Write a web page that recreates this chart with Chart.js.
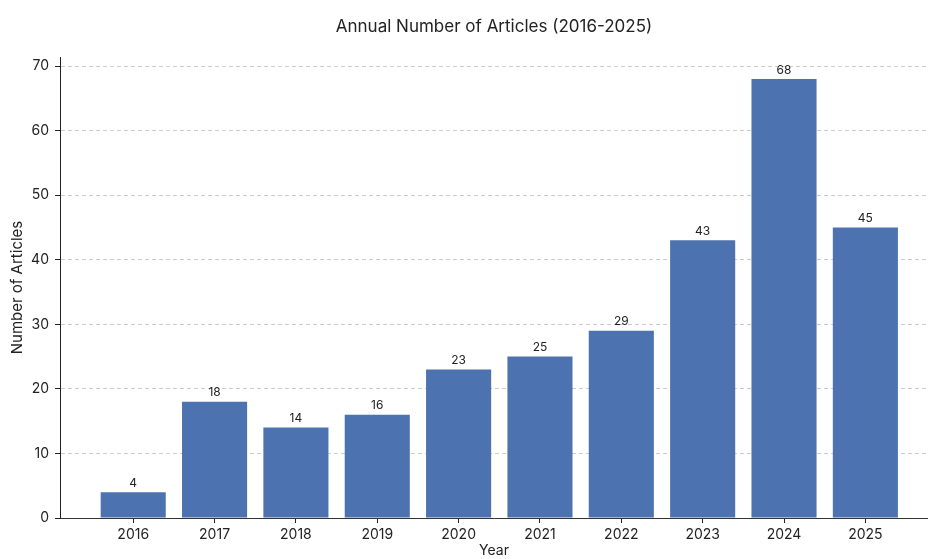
<!DOCTYPE html>
<html>
<head>
<meta charset="utf-8">
<script src="https://cdn.jsdelivr.net/npm/chart.js@4"></script>
<style>
  html, body { margin: 0; padding: 0; background: #ffffff; }
  #wrap { width: 928px; height: 559px; }
</style>
</head>
<body>
<div id="wrap"><canvas id="c" width="928" height="559"></canvas></div>
<script>
const titleText = 'Annual Number of Articles (2016-2025)';
const years = ['2016','2017','2018','2019','2020','2021','2022','2023','2024','2025'];
const articles = [4, 18, 14, 16, 23, 25, 29, 43, 68, 45];
const yTicks = [0, 10, 20, 30, 40, 50, 60, 70];

const FONT = 'Inter, "Open Sans", "DejaVu Sans", sans-serif';
const TEXT = '#222222';

const labelPlugin = {
  id: 'barLabels',
  afterDatasetsDraw(chart) {
    const ctx = chart.ctx;
    const meta = chart.getDatasetMeta(0);
    ctx.save();
    ctx.font = '12px ' + FONT;
    ctx.fillStyle = TEXT;
    ctx.textAlign = 'center';
    ctx.textBaseline = 'bottom';
    meta.data.forEach((bar, i) => {
      ctx.fillText(String(articles[i]), bar.x, bar.y - 3);
    });
    ctx.restore();
  }
};

// Title centred over the plotting area (as in the reference)
const axesTitlePlugin = {
  id: 'axesTitle',
  afterDraw(chart) {
    const { ctx, chartArea } = chart;
    ctx.save();
    ctx.font = '17px ' + FONT;
    ctx.fillStyle = TEXT;
    ctx.textAlign = 'center';
    ctx.textBaseline = 'middle';
    ctx.fillText(titleText, (chartArea.left + chartArea.right) / 2, 27);
    ctx.restore();
  }
};

new Chart(document.getElementById('c'), {
  type: 'bar',
  data: {
    datasets: [{
      data: articles.map((v, i) => ({ x: i, y: v })),
      backgroundColor: '#4c72b0',
      borderWidth: 0,
      categoryPercentage: 0.8,
      barPercentage: 1.0
    }]
  },
  options: {
    responsive: false,
    animation: false,
    devicePixelRatio: 1,
    layout: { padding: { left: 0, right: 0, top: 57, bottom: 0 } },
    plugins: {
      legend: { display: false },
      tooltip: { enabled: false },
      title: { display: false }
    },
    scales: {
      x: {
        type: 'linear',
        min: -0.9,
        max: 9.77,
        offset: false,
        afterFit(scale) { scale.height = 41; },
        afterBuildTicks(scale) {
          scale.ticks = years.map((y, i) => ({ value: i }));
        },
        ticks: {
          color: TEXT,
          font: { family: FONT, size: 14 },
          padding: 3,
          maxRotation: 0,
          autoSkip: false,
          callback: (v) => years[v]
        },
        grid: {
          display: true,
          offset: false,
          drawOnChartArea: false,
          drawTicks: true,
          tickLength: 5,
          tickColor: '#222222',
          tickWidth: 1
        },
        border: { display: true, color: '#333333', width: 1 },
        title: {
          display: true,
          text: 'Year',
          color: TEXT,
          font: { family: FONT, size: 14 },
          padding: { top: 0, bottom: 0 }
        }
      },
      y: {
        min: 0,
        max: Math.max(...articles) * 1.05,
        afterFit(scale) { scale.width = 60; },
        afterBuildTicks(scale) {
          scale.ticks = yTicks.map(v => ({ value: v }));
        },
        ticks: {
          color: TEXT,
          font: { family: FONT, size: 14 },
          padding: 6,
          includeBounds: false
        },
        grid: {
          display: true,
          drawOnChartArea: true,
          drawTicks: true,
          tickLength: 5,
          color: '#cccccc',
          lineWidth: 1,
          tickColor: '#222222',
          tickWidth: 1,
          tickBorderDash: []
        },
        border: { display: true, color: '#222222', width: 1, dash: [4, 3] },
        title: {
          display: true,
          text: 'Number of Articles',
          color: TEXT,
          font: { family: FONT, size: 15 },
          padding: { top: 8, bottom: 0 }
        }
      }
    }
  },
  plugins: [labelPlugin, axesTitlePlugin]
});
</script>
</body>
</html>
